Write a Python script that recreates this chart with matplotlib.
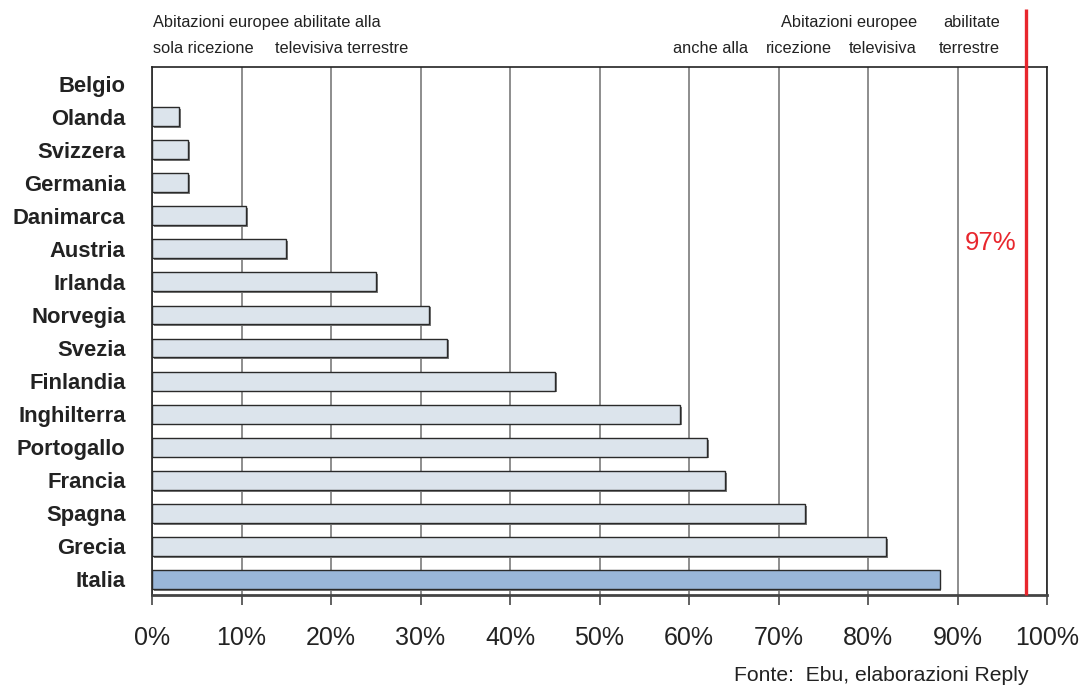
import matplotlib.pyplot as plt
import matplotlib.patheffects as pe

plt.rcParams['font.family'] = ['Liberation Sans', 'DejaVu Sans']

# data -----------------------------------------------------------------
paesi = ["Belgio", "Olanda", "Svizzera", "Germania", "Danimarca", "Austria",
         "Irlanda", "Norvegia", "Svezia", "Finlandia", "Inghilterra",
         "Portogallo", "Francia", "Spagna", "Grecia", "Italia"]
quote = [0, 3, 4, 4, 10.5, 15, 25, 31, 33, 45, 59, 62, 64, 73, 82, 88]
soglia = 97.6          # where the red line sits in the picture
soglia_label = "97%"
xticks = list(range(0, 101, 10))
xlabels = [f"{v}%" for v in xticks]

# ---------------------------------------------------------------------
fig = plt.figure(figsize=(10.81, 6.87), dpi=100)
ax = fig.add_axes([152/1081, 1-595/687, (1047-152)/1081, (595-67)/687])

n = len(paesi)
ypos = [n-1-i for i in range(n)]
colori = ['#99b6d9' if p == "Italia" else '#dce4ec' for p in paesi]
ombra = [pe.SimplePatchShadow(offset=(1.3, -1.3), shadow_rgbFace='#7a7a7a', alpha=1),
         pe.Normal()]

bars = ax.barh(ypos, quote, height=0.57, color=colori, edgecolor='#2a2a2a',
               linewidth=1.0, zorder=3)
for b, q in zip(bars, quote):
    if q > 0:
        b.set_path_effects(ombra)
    else:
        b.set_visible(False)

ax.set_xlim(0, 100)
ax.set_ylim(-0.47, n-0.5)
ax.set_xticks(xticks)
ax.set_xticklabels(xlabels, fontsize=18, color='#222222')
ax.set_yticks(ypos)
ax.set_yticklabels(paesi, fontsize=15.8, fontweight='bold', color='#222222')
ax.tick_params(axis='y', length=0, pad=19)
ax.tick_params(axis='x', length=7, width=1.3, color='#555555', pad=15)

ax.grid(axis='x', color='#7a7a7a', linewidth=1.2, zorder=1)
ax.set_axisbelow(True)
for s in ['top', 'right']:
    ax.spines[s].set_color('#222222')
    ax.spines[s].set_linewidth(1.2)
ax.spines['left'].set_color('#222222')
ax.spines['left'].set_linewidth(1.2)
ax.spines['bottom'].set_color('#444444')
ax.spines['bottom'].set_linewidth(2.0)

# red threshold line, runs above the plot box
ax.plot([soglia, soglia], [-0.47, n-0.5+1.75], color='#e8262d', lw=2.4,
        clip_on=False, zorder=5, solid_capstyle='butt')
ax.text(soglia-3.9, 10.18, soglia_label, color='#e8262d', fontsize=18.5,
        ha='center', va='center')

# header notes
hdr = dict(fontsize=11.8, color='#222222', va='baseline')
fig.text(153/1081, 1-27/687, "Abitazioni europee abilitate alla", **hdr)
fig.text(153/1081, 1-53/687, "sola ricezione", **hdr)
fig.text(275/1081, 1-53/687, "televisiva terrestre", **hdr)
fig.text(781/1081, 1-27/687, "Abitazioni europee", **hdr)
fig.text(943/1081, 1-27/687, "abilitate", **hdr)
fig.text(673/1081, 1-53/687, "anche alla", **hdr)
fig.text(766/1081, 1-53/687, "ricezione", **hdr)
fig.text(849/1081, 1-53/687, "televisiva", **hdr)
fig.text(939/1081, 1-53/687, "terrestre", **hdr)

fig.text(1028/1081, 1-681/687, "Fonte:  Ebu, elaborazioni Reply",
         fontsize=15.2, color='#222222', ha='right', va='baseline')

fig.savefig("out.png", dpi=100)
